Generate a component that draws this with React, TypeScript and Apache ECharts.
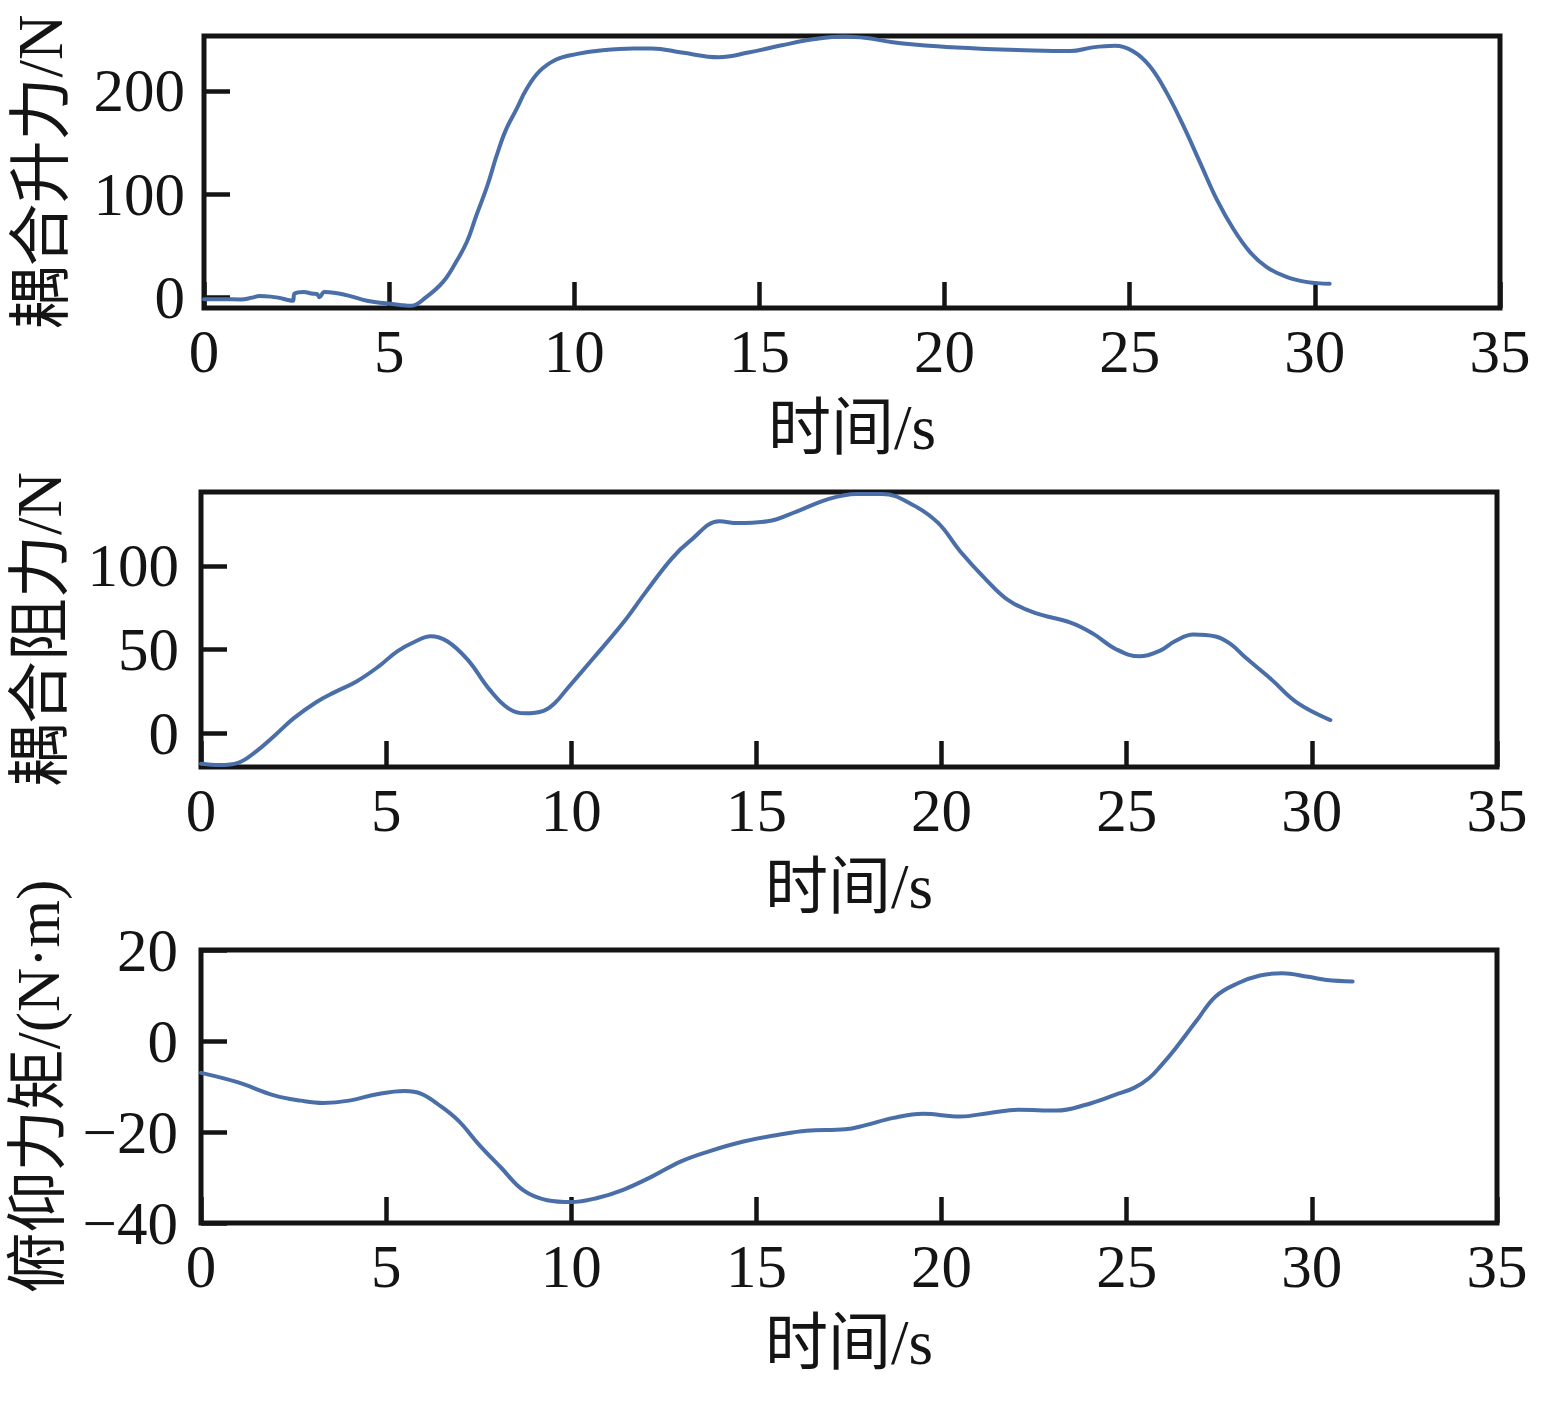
import React, { useEffect, useRef } from "react";
import * as echarts from "echarts";

// ---- Data ----
const liftT = [0, 0.5, 1.0, 1.3, 1.5, 1.8, 2.0, 2.3, 2.4, 2.45, 2.7, 2.9, 3.05, 3.12, 3.25, 3.6, 3.9, 4.4, 4.9, 5.3, 5.6, 6.0, 6.45, 6.8, 7.1, 7.35, 7.65, 7.9, 8.15, 8.45, 8.7, 9.05, 9.5, 10.05, 10.7, 11.6, 12.1, 12.9, 13.9, 14.7, 15.6, 16.5, 17.3, 17.9, 18.6, 19.8, 21.1, 22.4, 23.4, 24.0, 24.6, 25.1, 25.55, 26.0, 26.45, 26.9, 27.35, 27.8, 28.25, 28.7, 29.25, 29.8, 30.4];
const liftV = [-1.5, -1.5, -1.8, 0, 1.5, 1, 0, -2.5, -3, 4, 5.5, 4, 3.5, 0.5, 5.5, 4.2, 2, -3, -5.5, -7, -7.8, 0.5, 15, 34, 54, 79, 108, 137, 162, 183, 201, 218.5, 230, 235.5, 239, 241, 241, 237, 232.5, 237, 244, 250, 252.5, 251, 247, 243, 240.5, 239, 238.5, 242, 243.5, 238, 223.5, 198, 166, 130.5, 95, 66.4, 44, 29.5, 19.8, 15, 13.4];

const dragT = [0, 0.5, 1.0, 1.5, 2.0, 2.5, 3.1, 3.6, 4.2, 4.8, 5.3, 5.8, 6.2, 6.65, 7.2, 7.8, 8.3, 8.75, 9.25, 9.55, 9.9, 10.6, 11.4, 12.0, 12.7, 13.2, 14.0, 14.5, 15.3, 16.1, 16.9, 17.7, 18.4, 19.2, 19.9, 20.5, 21.2, 21.8, 22.5, 23.5, 24.1, 24.7, 25.35, 25.9, 26.3, 26.8, 27.4, 27.8, 28.2, 28.9, 29.6, 30.5];
const dragV = [-18, -18.8, -17.5, -10.5, -1, 9, 18.5, 24.5, 31, 40, 49, 55, 58, 55, 44, 26, 15, 12, 13.5, 18, 27, 45, 66, 84, 104, 114.7, 126.5, 125.5, 126.5, 132.5, 139.5, 142.8, 142.8, 136.6, 125.7, 108.7, 91.8, 79.5, 72, 66, 59.4, 50.4, 46, 49.4, 55, 59, 57.8, 53.4, 45.4, 32.4, 18.4, 8];

const momentT = [0, 0.96, 2.0, 2.7, 3.3, 4.0, 4.75, 5.5, 5.95, 6.4, 6.95, 7.5, 8.1, 8.7, 9.35, 10.0, 10.7, 11.4, 12.2, 12.95, 13.7, 14.65, 15.6, 16.35, 17.4, 17.9, 18.7, 19.5, 20.5, 21.3, 22.1, 23.1, 23.9, 24.7, 25.2, 25.6, 25.95, 26.3, 26.9, 27.4, 28.0, 28.6, 29.2, 29.9, 30.4, 31.1];
const momentV = [-7, -9, -12, -13.1, -13.6, -13.1, -11.7, -11, -11.6, -13.9, -17.5, -22.7, -27.8, -32.8, -35, -35.4, -34.5, -32.7, -29.7, -26.5, -24.3, -22.1, -20.6, -19.7, -19.4, -18.6, -16.9, -16, -16.6, -15.8, -15.1, -15.3, -14, -11.8, -10.3, -8.2, -5.2, -1.8, 4.6, 9.8, 12.7, 14.4, 14.9, 14.1, 13.4, 13.1];

const xTicks = [0, 5, 10, 15, 20, 25, 30, 35];
const liftTicks = [0, 100, 200];
const dragTicks = [0, 50, 100];
const momentTicks = [-40, -20, 0, 20];

const xName = "时间/s";
const yNames = ["耦合升力/N", "耦合阻力/N", "俯仰力矩/(N·m)"];

const FONT = "'Liberation Serif', 'Noto Sans CJK SC', serif";
const LINE_COLOR = "#4a6ea8";
const INK = "#141414";

function pairs(t: number[], v: number[]) {
  return t.map((x, i) => [x, v[i]]);
}

export default function App() {
  const ref = useRef<HTMLDivElement>(null);

  useEffect(() => {
    if (!ref.current) return;
    const chart = echarts.init(ref.current, undefined, { renderer: "svg" });

    const grids = [
      { left: 204, right: 49, top: 36, height: 272 },
      { left: 201, right: 52, top: 492, height: 275 },
      { left: 201, right: 52, top: 950, height: 273 },
    ];
    const yRanges = [
      { min: -10, max: 253, ticks: liftTicks, nameGap: 132, margin: 19 },
      { min: -20, max: 144, ticks: dragTicks, nameGap: 130, margin: 22 },
      { min: -40, max: 20, ticks: momentTicks, nameGap: 132, margin: 23 },
    ];

    const tickStyle = { show: true, inside: true, length: 26, lineStyle: { color: INK, width: 4.5 } };

    const option: any = {
      animation: false,
      backgroundColor: "#ffffff",
      grid: grids.map((g) => ({
        ...g,
        show: true,
        borderColor: INK,
        borderWidth: 5,
        backgroundColor: "transparent",
        containLabel: false,
        outerBoundsMode: "none",
      })),
      xAxis: grids.map((_, i) => ({
        type: "value",
        gridIndex: i,
        min: 0,
        max: 35,
        interval: 5,
        name: xName,
        nameLocation: "middle",
        nameGap: 88,
        nameTextStyle: { fontFamily: FONT, fontSize: 63, color: INK },
        axisLine: { show: false, onZero: false },
        axisTick: { ...tickStyle, customValues: xTicks },
        axisLabel: {
          show: true,
          margin: 13,
          fontFamily: FONT,
          fontSize: 61,
          color: INK,
          customValues: xTicks,
        },
        splitLine: { show: false },
      })),
      yAxis: yRanges.map((r, i) => ({
        type: "value",
        gridIndex: i,
        min: r.min,
        max: r.max,
        name: yNames[i],
        nameLocation: "middle",
        nameGap: r.nameGap,
        nameTextStyle: { fontFamily: FONT, fontSize: i === 2 ? 61 : 63, color: INK },
        axisLine: { show: false, onZero: false },
        axisTick: { ...tickStyle, customValues: r.ticks },
        axisLabel: {
          show: true,
          margin: r.margin,
          fontFamily: FONT,
          fontSize: 61,
          color: INK,
          customValues: r.ticks,
          formatter: (v: number) => String(v).replace("-", "\u2212"),
        },
        splitLine: { show: false },
      })),
      series: [
        { t: liftT, v: liftV },
        { t: dragT, v: dragV },
        { t: momentT, v: momentV },
      ].map((s, i) => ({
        type: "line",
        xAxisIndex: i,
        yAxisIndex: i,
        data: pairs(s.t, s.v),
        showSymbol: false,
        symbol: "none",
        smooth: 0.4,
        clip: true,
        lineStyle: { color: LINE_COLOR, width: 4, cap: "round", join: "round" },
        z: 1,
      })),
    };

    chart.setOption(option);
    return () => chart.dispose();
  }, []);

  return (
    <div
      ref={ref}
      style={{ position: "absolute", left: 0, top: 0, width: 1549, height: 1402, background: "#fff" }}
    />
  );
}
